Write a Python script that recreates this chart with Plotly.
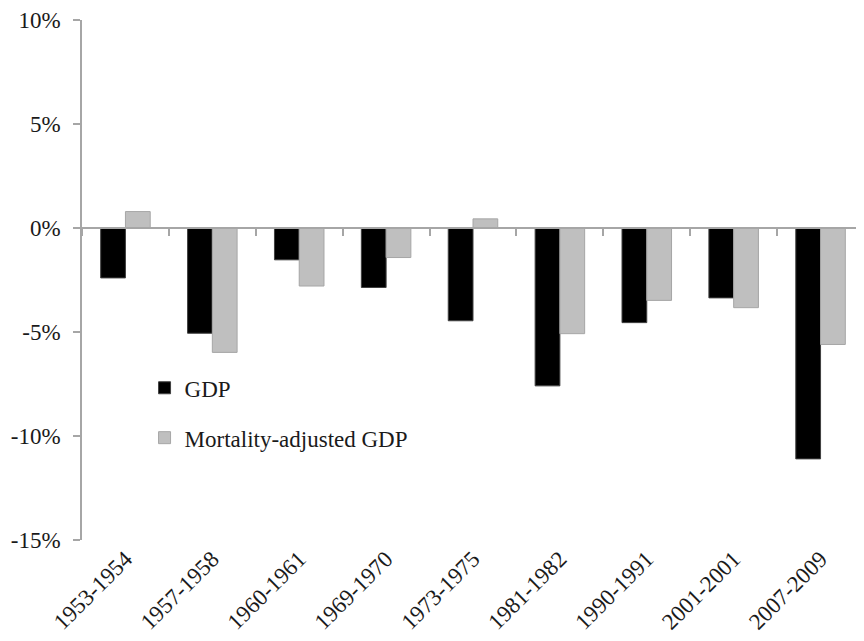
import plotly.graph_objects as go

periods = ["1953-1954", "1957-1958", "1960-1961", "1969-1970", "1973-1975",
           "1981-1982", "1990-1991", "2001-2001", "2007-2009"]
gdp = [-2.4, -5.06, -1.53, -2.86, -4.46, -7.59, -4.55, -3.36, -11.1]
mort_adj = [0.79, -5.98, -2.79, -1.42, 0.44, -5.08, -3.48, -3.83, -5.6]
y_ticks = [-15, -10, -5, 0, 5, 10]
y_labels = [f"{v}%" for v in y_ticks]

FONT = "Liberation Serif"
AXIS_GRAY = "#a6a6a6"
TXT = "#1a1a1a"

fig = go.Figure()
fig.add_trace(go.Bar(x=periods, y=gdp, name="GDP", legendgroup="a",
                     marker=dict(color="#000000", line=dict(color="#404040", width=1))))
fig.add_trace(go.Bar(x=periods, y=mort_adj, name="Mortality-adjusted GDP", legendgroup="b",
                     marker=dict(color="#bfbfbf", line=dict(color="#a6a6a6", width=1))))
# helper trace so the zero-line category axis (with boundary ticks) is drawn
fig.add_trace(go.Scatter(x=periods, y=[0] * len(periods), xaxis="x2", mode="lines",
                         line=dict(width=0), opacity=0, showlegend=False, hoverinfo="skip"))

# page body has an 8px margin, so the figure is sized/offset to compensate
fig.update_layout(
    width=856, height=633,
    margin=dict(l=74, r=0, t=12, b=101, autoexpand=False),
    paper_bgcolor="white", plot_bgcolor="white",
    font=dict(family=FONT, size=23, color=TXT),
    barmode="group", bargap=0.43, bargroupgap=0,
    showlegend=True,
    legend=dict(x=0.08, y=0.334, xanchor="left", yanchor="top",
                traceorder="grouped", tracegroupgap=17,
                bgcolor="rgba(0,0,0,0)", font=dict(family=FONT, size=23, color=TXT)),
    xaxis=dict(type="category", categoryorder="array", categoryarray=periods,
               range=[-0.5, len(periods) - 0.5], showline=False, ticks="",
               tickangle=-45, showgrid=False, zeroline=False, automargin=False,
               tickfont=dict(family=FONT, size=23, color=TXT)),
    xaxis2=dict(type="category", categoryorder="array", categoryarray=periods,
                range=[-0.5, len(periods) - 0.5], overlaying="x", anchor="free",
                position=0.6, side="bottom", showline=True, linecolor=AXIS_GRAY, linewidth=1.5,
                ticks="outside", tickson="boundaries", ticklen=7, tickcolor=AXIS_GRAY,
                tickwidth=1.5, showticklabels=False, showgrid=False, zeroline=False,
                automargin=False),
    yaxis=dict(range=[-15, 10], tickmode="array", tickvals=y_ticks, ticktext=y_labels,
               showline=True, linecolor=AXIS_GRAY, linewidth=1.5, ticks="outside",
               ticklen=7, tickcolor=AXIS_GRAY, tickwidth=1.5, showgrid=False,
               zeroline=False, automargin=False, ticklabelstandoff=8,
               ticklabeloverflow="allow",
               tickfont=dict(family=FONT, size=23, color=TXT)),
)

fig.write_html("out.html")
